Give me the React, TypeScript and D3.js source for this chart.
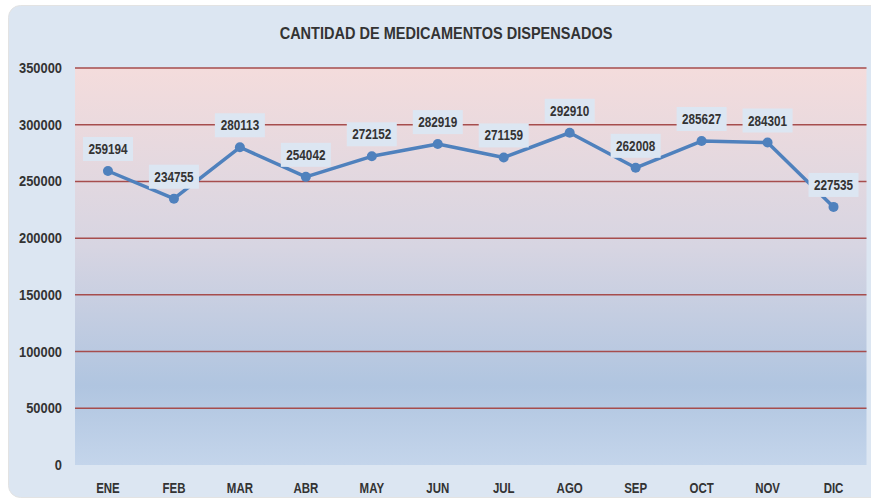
import { useEffect, useRef } from 'react';
import * as d3 from 'd3';

const months = ['ENE', 'FEB', 'MAR', 'ABR', 'MAY', 'JUN', 'JUL', 'AGO', 'SEP', 'OCT', 'NOV', 'DIC'];
const dispensed = [259194, 234755, 280113, 254042, 272152, 282919, 271159, 292910, 262008, 285627, 284301, 227535];
const yTicks = [0, 50000, 100000, 150000, 200000, 250000, 300000, 350000];

const FONT = "'Liberation Sans', Arial, sans-serif";

export default function App() {
  const svgRef = useRef<SVGSVGElement>(null);

  useEffect(() => {
    if (!svgRef.current) return;
    const svg = d3.select(svgRef.current);
    svg.selectAll('*').remove();

    const W = 871;
    const H = 503;
    const plot = { left: 75, right: 866.5, top: 68, bottom: 465 };

    // Gradients
    const defs = svg.append('defs');
    const grad = defs
      .append('linearGradient')
      .attr('id', 'plot-bg')
      .attr('x1', '0%')
      .attr('y1', '0%')
      .attr('x2', '0%')
      .attr('y2', '100%');
    grad.append('stop').attr('offset', '0%').attr('stop-color', '#f4dcdc');
    grad.append('stop').attr('offset', '45%').attr('stop-color', '#d7d5e2');
    grad.append('stop').attr('offset', '80%').attr('stop-color', '#b0c5e0');
    grad.append('stop').attr('offset', '100%').attr('stop-color', '#c4d5eb');

    // Outer panel
    svg.append('rect').attr('width', W).attr('height', H).attr('fill', '#ffffff');
    svg
      .append('rect')
      .attr('x', 8.5)
      .attr('y', 5.5)
      .attr('width', W + 20)
      .attr('height', 492)
      .attr('rx', 12)
      .attr('fill', '#dce6f2')
      .attr('stroke', '#e3e3e3')
      .attr('stroke-width', 1);

    const x = d3.scaleBand().domain(months).range([plot.left, plot.right]);
    const y = d3.scaleLinear().domain([0, 350000]).range([plot.bottom, plot.top]);

    // Plot area
    svg
      .append('rect')
      .attr('x', plot.left)
      .attr('y', plot.top)
      .attr('width', plot.right - plot.left)
      .attr('height', plot.bottom - plot.top)
      .attr('fill', 'url(#plot-bg)');

    // Grid lines
    svg
      .append('g')
      .selectAll('line')
      .data(yTicks.filter((t) => t > 0))
      .enter()
      .append('line')
      .attr('x1', plot.left)
      .attr('x2', plot.right)
      .attr('y1', (d) => y(d))
      .attr('y2', (d) => y(d))
      .attr('stroke', '#a64d4d')
      .attr('stroke-width', 1.5);

    // narrow bold text, Calibri-like
    const label = (
      parent: d3.Selection<any, any, any, any>,
      tx: number,
      ty: number,
      txt: string,
      size: number,
      sx: number,
      anchor: string
    ) => {
      parent
        .append('g')
        .attr('transform', `translate(${tx},${ty}) scale(${sx},1)`)
        .append('text')
        .attr('text-anchor', anchor)
        .attr('font-family', FONT)
        .attr('font-weight', 'bold')
        .attr('font-size', `${size}px`)
        .attr('fill', '#333333')
        .text(txt);
    };

    // Y axis labels
    const yAxis = svg.append('g');
    yTicks.forEach((t) => label(yAxis, 62, y(t) + 5, String(t), 14, 0.92, 'end'));

    // X axis labels
    const xAxis = svg.append('g');
    months.forEach((m) => label(xAxis, (x(m) || 0) + x.bandwidth() / 2, 493, m, 14, 0.82, 'middle'));

    // Title
    label(svg, 446, 39, 'CANTIDAD DE MEDICAMENTOS DISPENSADOS', 16.5, 0.88, 'middle');

    const cx = (i: number) => (x(months[i]) || 0) + x.bandwidth() / 2;

    // Line
    const line = d3
      .line<number>()
      .x((_, i) => cx(i))
      .y((d) => y(d));

    svg
      .append('path')
      .datum(dispensed)
      .attr('fill', 'none')
      .attr('stroke', '#4f81bd')
      .attr('stroke-width', 3.5)
      .attr('stroke-linejoin', 'round')
      .attr('d', line);

    svg
      .append('g')
      .selectAll('circle')
      .data(dispensed)
      .enter()
      .append('circle')
      .attr('cx', (_, i) => cx(i))
      .attr('cy', (d) => y(d))
      .attr('r', 5)
      .attr('fill', '#4f81bd');

    // Data labels
    const boxes = svg.append('g');
    dispensed.forEach((d, i) => {
      const bx = cx(i);
      const by = y(d) - 22;
      boxes
        .append('rect')
        .attr('x', bx - 25)
        .attr('y', by - 12)
        .attr('width', 50)
        .attr('height', 24)
        .attr('fill', '#dce6f2');
      label(boxes, bx, by + 5, String(d), 14, 0.84, 'middle');
    });
  }, []);

  return (
    <div style={{ position: 'absolute', left: 0, top: 0 }}>
      <svg ref={svgRef} width={871} height={503} style={{ display: 'block' }} />
    </div>
  );
}
